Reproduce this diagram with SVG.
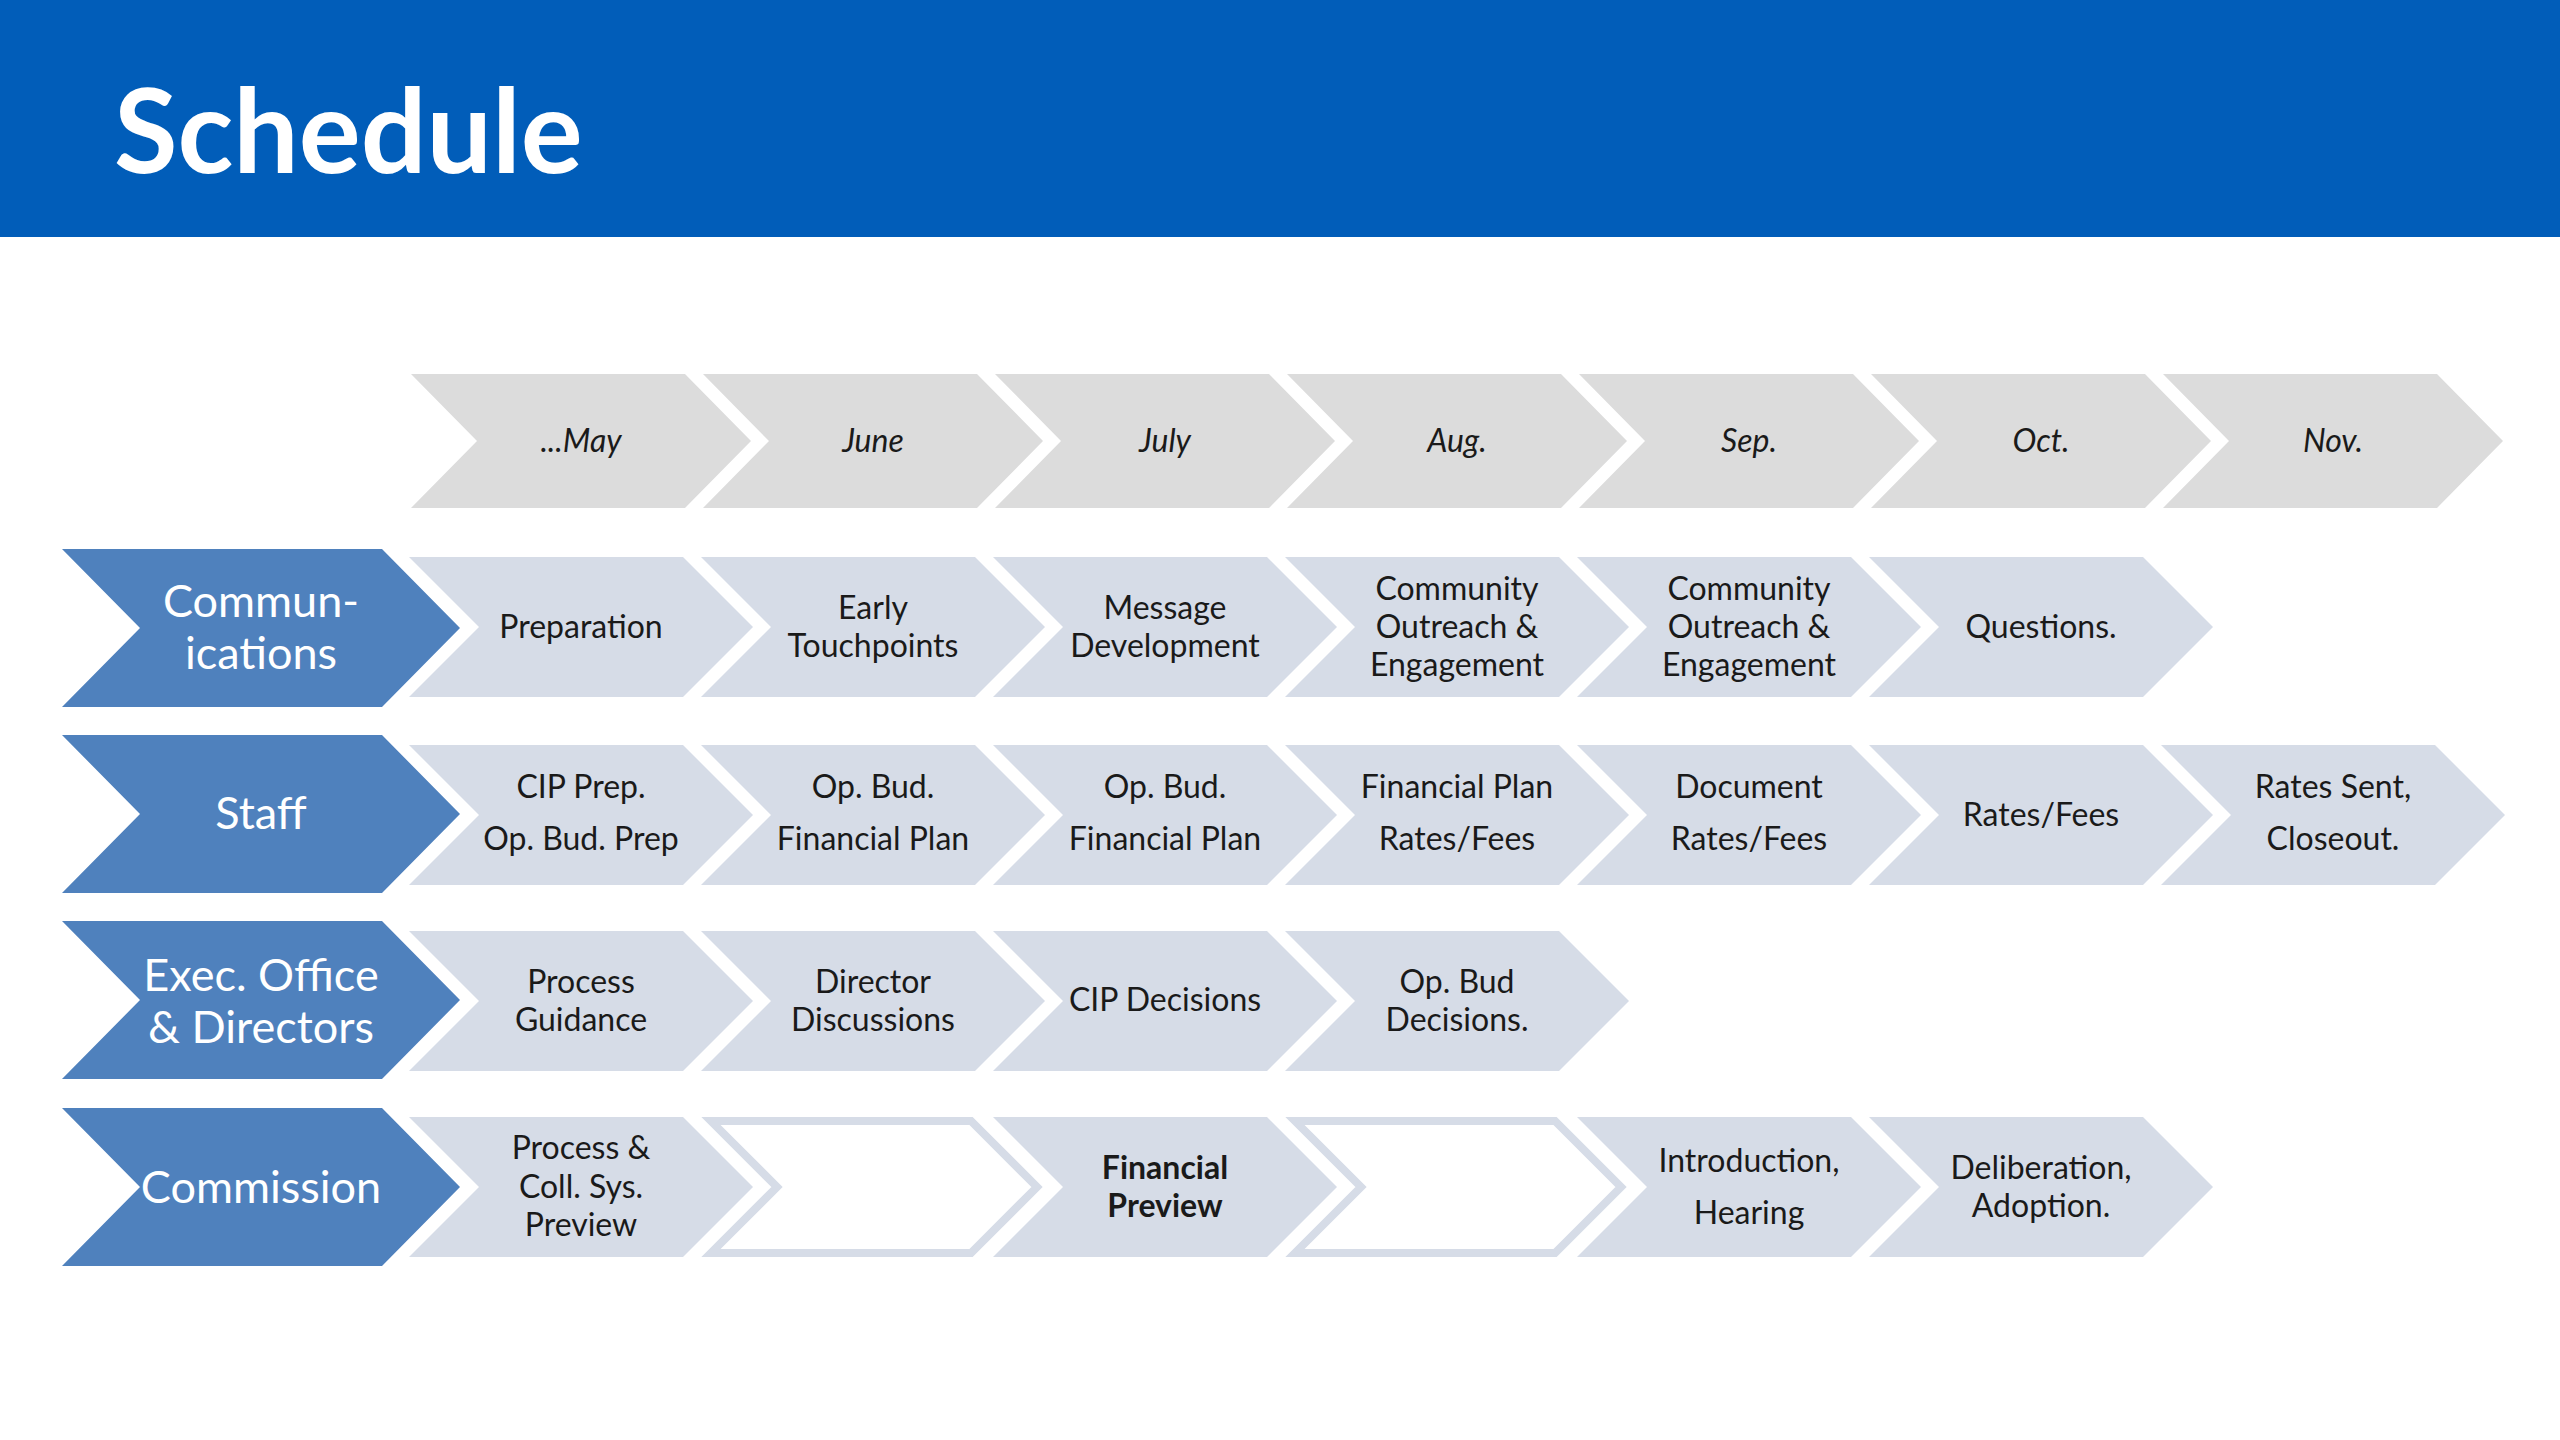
<svg xmlns="http://www.w3.org/2000/svg" width="2560" height="1440" viewBox="0 0 2560 1440">
<style>
.month{fill:#dcdcdc}
.task{fill:#d6dce7}
.empty{fill:#ffffff;stroke:#d6dce7;stroke-width:8}
.head{fill:#4f81bd}
text{font-family:Lato,"Liberation Sans",sans-serif}
.mt{font-size:32px;font-style:italic;fill:#1a1a1a;text-anchor:middle}
.tt{font-size:32px;fill:#1a1a1a;text-anchor:middle}
.tb{font-size:32px;font-weight:bold;fill:#1a1a1a;text-anchor:middle}
.ht{font-size:45px;fill:#ffffff;text-anchor:middle}
.title{font-size:116px;font-weight:bold;fill:#ffffff}
</style>
<rect x="0" y="0" width="2560" height="1440" fill="#ffffff"/>
<g id="header">
<rect x="0" y="0" width="2560" height="237" fill="#015db9"/>
<text class="title" x="114" y="173">Schedule</text>
</g>
<g id="months">
<g id="m-may"><polygon class="month" points="411,374 685,374 751,441 685,508 411,508 477,441"/><text class="mt" x="581" y="452">...May</text></g>
<g id="m-june"><polygon class="month" points="703,374 977,374 1043,441 977,508 703,508 769,441"/><text class="mt" x="873" y="452">June</text></g>
<g id="m-july"><polygon class="month" points="995,374 1269,374 1335,441 1269,508 995,508 1061,441"/><text class="mt" x="1165" y="452">July</text></g>
<g id="m-aug"><polygon class="month" points="1287,374 1561,374 1627,441 1561,508 1287,508 1353,441"/><text class="mt" x="1457" y="452">Aug.</text></g>
<g id="m-sep"><polygon class="month" points="1579,374 1853,374 1919,441 1853,508 1579,508 1645,441"/><text class="mt" x="1749" y="452">Sep.</text></g>
<g id="m-oct"><polygon class="month" points="1871,374 2145,374 2211,441 2145,508 1871,508 1937,441"/><text class="mt" x="2041" y="452">Oct.</text></g>
<g id="m-nov"><polygon class="month" points="2163,374 2437,374 2503,441 2437,508 2163,508 2229,441"/><text class="mt" x="2333" y="452">Nov.</text></g>
</g>
<g id="row-communications">
<g id="h-comm"><polygon class="head" points="62,549 382,549 460,628 382,707 62,707 140,628"/><text class="ht" x="261" y="617">Commun-</text><text class="ht" x="261" y="669">ications</text></g>
<g id="c-may"><polygon class="task" points="409,557 683,557 753,627 683,697 409,697 479,627"/><text class="tt" x="581" y="638">Preparation</text></g>
<g id="c-june"><polygon class="task" points="701,557 975,557 1045,627 975,697 701,697 771,627"/><text class="tt" x="873" y="619">Early</text><text class="tt" x="873" y="657">Touchpoints</text></g>
<g id="c-july"><polygon class="task" points="993,557 1267,557 1337,627 1267,697 993,697 1063,627"/><text class="tt" x="1165" y="619">Message</text><text class="tt" x="1165" y="657">Development</text></g>
<g id="c-aug"><polygon class="task" points="1285,557 1559,557 1629,627 1559,697 1285,697 1355,627"/><text class="tt" x="1457" y="600">Community</text><text class="tt" x="1457" y="638">Outreach &amp;</text><text class="tt" x="1457" y="676">Engagement</text></g>
<g id="c-sep"><polygon class="task" points="1577,557 1851,557 1921,627 1851,697 1577,697 1647,627"/><text class="tt" x="1749" y="600">Community</text><text class="tt" x="1749" y="638">Outreach &amp;</text><text class="tt" x="1749" y="676">Engagement</text></g>
<g id="c-oct"><polygon class="task" points="1869,557 2143,557 2213,627 2143,697 1869,697 1939,627"/><text class="tt" x="2041" y="638">Questions.</text></g>
</g>
<g id="row-staff">
<g id="h-staff"><polygon class="head" points="62,735 382,735 460,814 382,893 62,893 140,814"/><text class="ht" x="261" y="829">Staff</text></g>
<g id="s-may"><polygon class="task" points="409,745 683,745 753,815 683,885 409,885 479,815"/><text class="tt" x="581" y="798">CIP Prep.</text><text class="tt" x="581" y="850">Op. Bud. Prep</text></g>
<g id="s-june"><polygon class="task" points="701,745 975,745 1045,815 975,885 701,885 771,815"/><text class="tt" x="873" y="798">Op. Bud.</text><text class="tt" x="873" y="850">Financial Plan</text></g>
<g id="s-july"><polygon class="task" points="993,745 1267,745 1337,815 1267,885 993,885 1063,815"/><text class="tt" x="1165" y="798">Op. Bud.</text><text class="tt" x="1165" y="850">Financial Plan</text></g>
<g id="s-aug"><polygon class="task" points="1285,745 1559,745 1629,815 1559,885 1285,885 1355,815"/><text class="tt" x="1457" y="798">Financial Plan</text><text class="tt" x="1457" y="850">Rates/Fees</text></g>
<g id="s-sep"><polygon class="task" points="1577,745 1851,745 1921,815 1851,885 1577,885 1647,815"/><text class="tt" x="1749" y="798">Document</text><text class="tt" x="1749" y="850">Rates/Fees</text></g>
<g id="s-oct"><polygon class="task" points="1869,745 2143,745 2213,815 2143,885 1869,885 1939,815"/><text class="tt" x="2041" y="826">Rates/Fees</text></g>
<g id="s-nov"><polygon class="task" points="2161,745 2435,745 2505,815 2435,885 2161,885 2231,815"/><text class="tt" x="2333" y="798">Rates Sent,</text><text class="tt" x="2333" y="850">Closeout.</text></g>
</g>
<g id="row-exec">
<g id="h-exec"><polygon class="head" points="62,921 382,921 460,1000 382,1079 62,1079 140,1000"/><text class="ht" x="261" y="991">Exec. Office</text><text class="ht" x="261" y="1043">&amp; Directors</text></g>
<g id="e-may"><polygon class="task" points="409,931 683,931 753,1001 683,1071 409,1071 479,1001"/><text class="tt" x="581" y="993">Process</text><text class="tt" x="581" y="1031">Guidance</text></g>
<g id="e-june"><polygon class="task" points="701,931 975,931 1045,1001 975,1071 701,1071 771,1001"/><text class="tt" x="873" y="993">Director</text><text class="tt" x="873" y="1031">Discussions</text></g>
<g id="e-july"><polygon class="task" points="993,931 1267,931 1337,1001 1267,1071 993,1071 1063,1001"/><text class="tt" x="1165" y="1011">CIP Decisions</text></g>
<g id="e-aug"><polygon class="task" points="1285,931 1559,931 1629,1001 1559,1071 1285,1071 1355,1001"/><text class="tt" x="1457" y="993">Op. Bud</text><text class="tt" x="1457" y="1031">Decisions.</text></g>
</g>
<g id="row-commission">
<g id="h-commission"><polygon class="head" points="62,1108 382,1108 460,1187 382,1266 62,1266 140,1187"/><text class="ht" x="261" y="1203">Commission</text></g>
<g id="k-may"><polygon class="task" points="409,1117 683,1117 753,1187 683,1257 409,1257 479,1187"/><text class="tt" x="581" y="1159">Process &amp;</text><text class="tt" x="581" y="1198">Coll. Sys.</text><text class="tt" x="581" y="1236">Preview</text></g>
<g id="k-june"><polygon class="empty" points="711,1121 971,1121 1037,1187 971,1253 711,1253 777,1187"/></g>
<g id="k-july"><polygon class="task" points="993,1117 1267,1117 1337,1187 1267,1257 993,1257 1063,1187"/><text class="tb" x="1165" y="1179">Financial</text><text class="tb" x="1165" y="1217">Preview</text></g>
<g id="k-aug"><polygon class="empty" points="1295,1121 1555,1121 1621,1187 1555,1253 1295,1253 1361,1187"/></g>
<g id="k-sep"><polygon class="task" points="1577,1117 1851,1117 1921,1187 1851,1257 1577,1257 1647,1187"/><text class="tt" x="1749" y="1172">Introduction,</text><text class="tt" x="1749" y="1224">Hearing</text></g>
<g id="k-oct"><polygon class="task" points="1869,1117 2143,1117 2213,1187 2143,1257 1869,1257 1939,1187"/><text class="tt" x="2041" y="1179">Deliberation,</text><text class="tt" x="2041" y="1217">Adoption.</text></g>
</g>
<g id="connectors"></g>
</svg>
